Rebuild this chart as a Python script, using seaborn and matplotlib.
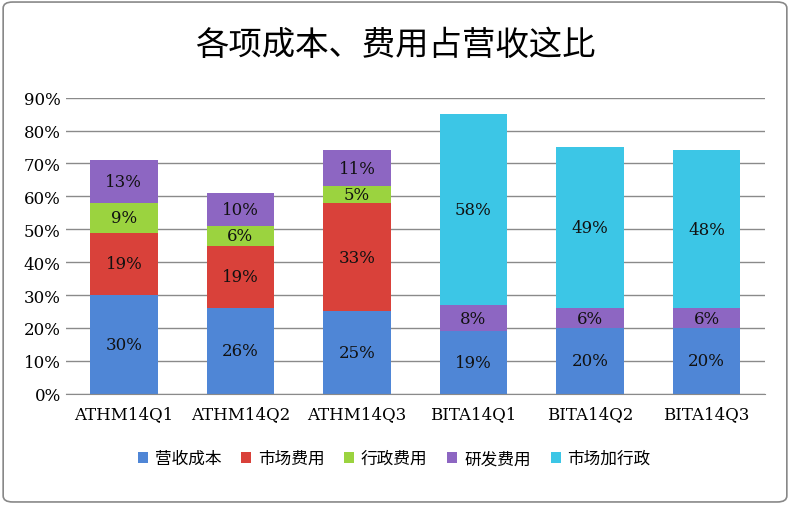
import matplotlib
matplotlib.use("Agg")
import matplotlib.pyplot as plt
import seaborn as sns
import numpy as np
import pandas as pd
from matplotlib.patches import FancyBboxPatch

cjk = ["Noto Sans CJK JP", "Noto Sans CJK SC", "Noto Sans CJK TC", "Noto Sans CJK KR", "DejaVu Sans"]
plt.rcParams["font.family"] = ["DejaVu Serif"] + cjk

quarters = ["ATHM14Q1", "ATHM14Q2", "ATHM14Q3", "BITA14Q1", "BITA14Q2", "BITA14Q3"]
cost = [30, 26, 25, 19, 20, 20]          # 营收成本
marketing = [19, 19, 33, 0, 0, 0]        # 市场费用
admin = [9, 6, 5, 0, 0, 0]               # 行政费用
research = [13, 10, 11, 8, 6, 6]         # 研发费用
mkt_admin = [0, 0, 0, 58, 49, 48]        # 市场加行政

series = [("营收成本", cost, "#4f86d6"),
          ("市场费用", marketing, "#d9413a"),
          ("行政费用", admin, "#9bd33f"),
          ("研发费用", research, "#8d66c2"),
          ("市场加行政", mkt_admin, "#3cc6e6")]

fig = plt.figure(figsize=(7.9, 5.06), dpi=100)
ax = fig.add_axes([0.083, 0.22, 0.885, 0.585])
fig.patches.append(FancyBboxPatch((0.004, 0.006), 0.992, 0.988, boxstyle="round,pad=0,rounding_size=0.012",
                                  transform=fig.transFigure, fill=False, edgecolor="#888888", lw=1.2))

bottom = np.zeros(len(quarters))
for name, vals, color in series:
    df = pd.DataFrame({"q": quarters, "v": vals})
    sns.barplot(data=df, x="q", y="v", color=color, bottom=bottom, width=0.58,
                ax=ax, label=name, saturation=1, edgecolor="none")
    for i, v in enumerate(vals):
        if v > 0:
            ax.text(i, bottom[i] + v / 2, f"{v}%", ha="center", va="center", fontsize=12, color="#111111")
    bottom = bottom + np.array(vals)

ax.set_ylim(0, 90)
ax.set_yticks(range(0, 91, 10))
ax.set_yticklabels([f"{t}%" for t in range(0, 91, 10)], fontsize=12)
ax.tick_params(axis="x", labelsize=12, length=0, pad=8)
ax.tick_params(axis="y", length=0)
ax.set_xlabel("")
ax.set_ylabel("")
ax.yaxis.grid(True, color="#8a8a8a", lw=1)
ax.set_axisbelow(True)
for s in ["top", "right", "left"]:
    ax.spines[s].set_visible(False)
ax.spines["bottom"].set_color("#8a8a8a")
ax.set_xlim(-0.5, 5.5)

fig.text(0.5, 0.91, "各项成本、费用占营收这比", ha="center", va="center", fontsize=24, family=cjk)
ax.legend(loc="upper center", bbox_to_anchor=(0.47, -0.14), ncol=5, frameon=False,
          prop={"family": cjk, "size": 12}, handlelength=0.6, handleheight=0.6,
          columnspacing=1.2, handletextpad=0.4)

fig.savefig("out.png", dpi=100)
